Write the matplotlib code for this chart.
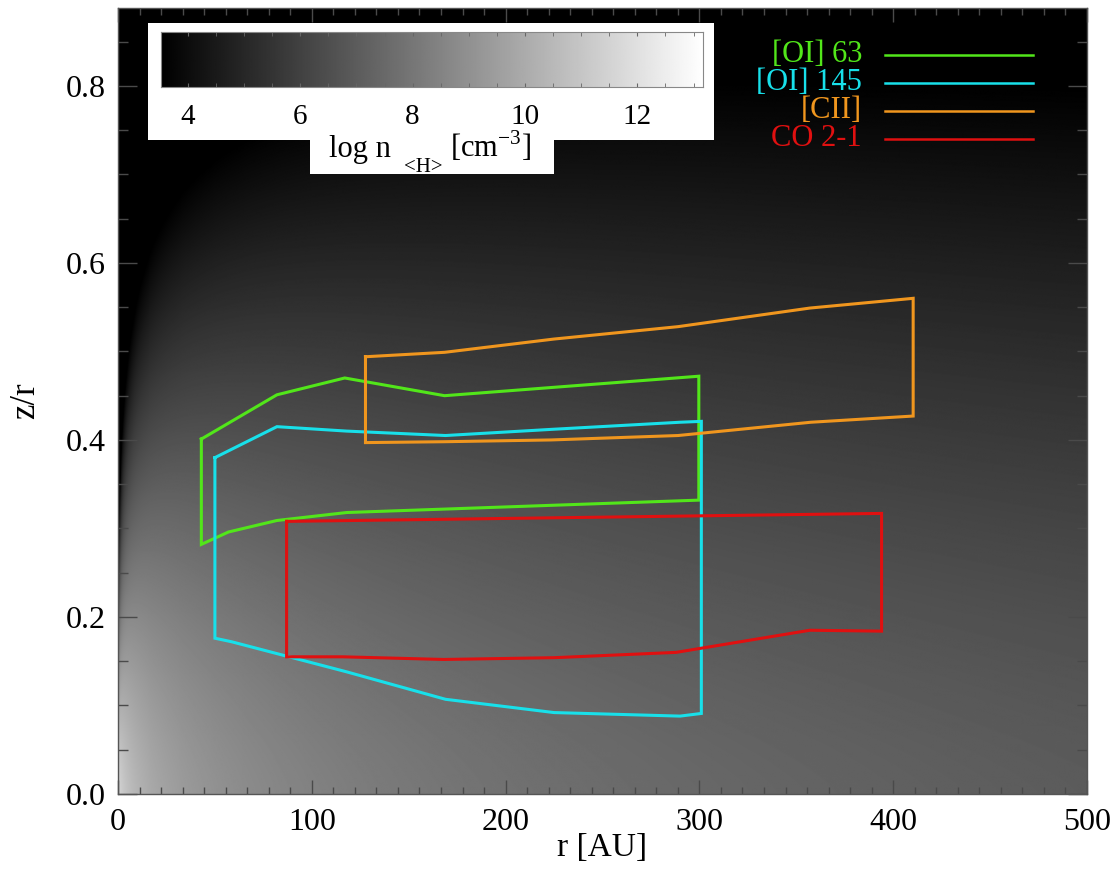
import numpy as np
import matplotlib
matplotlib.use('Agg')
import matplotlib.pyplot as plt
from matplotlib.lines import Line2D
from matplotlib.patches import Polygon
from matplotlib.ticker import MultipleLocator, AutoMinorLocator

plt.rcParams['font.family'] = ['Liberation Serif', 'DejaVu Serif']
plt.rcParams['mathtext.fontset'] = 'custom'
plt.rcParams['mathtext.rm'] = 'Liberation Serif'

# emitting regions (r in AU, z/r)
oi63_r = [43, 82, 117, 168.5, 299.7, 299.7, 118, 82, 57, 43]
oi63_z = [0.401, 0.451, 0.470, 0.450, 0.472, 0.332, 0.318, 0.309, 0.296, 0.282]

oi145_r = [50, 82, 118, 169, 224, 290, 301, 301, 290, 225, 169, 118, 58.6, 50]
oi145_z = [0.380, 0.415, 0.410, 0.405, 0.412, 0.420, 0.421, 0.091, 0.088, 0.092, 0.107, 0.138, 0.172, 0.176]

cii_r = [127.7, 168.5, 225, 289, 357, 410.3, 410.3, 357.5, 289, 223.4, 168.5, 127.7]
cii_z = [0.494, 0.499, 0.514, 0.528, 0.549, 0.560, 0.427, 0.420, 0.405, 0.400, 0.398, 0.397]

co21_r = [87, 394, 394, 357, 288, 225, 168, 116, 87]
co21_z = [0.308, 0.317, 0.184, 0.185, 0.160, 0.154, 0.152, 0.155, 0.155]

regions = [(oi63_r, oi63_z), (oi145_r, oi145_z), (cii_r, cii_z), (co21_r, co21_z)]
line_names = ['[OI] 63', '[OI] 145', '[CII]', 'CO 2-1']
line_colors = ['#52e61a', '#18e0ea', '#f0961e', '#e01010']

xticks = [0, 100, 200, 300, 400, 500]
yticks = [0.0, 0.2, 0.4, 0.6, 0.8]
ytick_labels = ['0.0', '0.2', '0.4', '0.6', '0.8']
cb_ticks = [4, 6, 8, 10, 12]
logn_min, logn_max = 3.52, 13.16
zr_max = 0.888

# disk density model: power law in r, stretched fall-off in z/r that widens outward
rr = np.linspace(0.25, 500, 1000)
zz = np.linspace(0, zr_max, 800)
R, Z = np.meshgrid(rr, zz)
k = 2.5 + 36.6 * (R + 0.3) ** -0.45
logn = 12.65 - 2.1 * np.log10(R + 3) - k * Z ** 1.4

W, H = 1116, 872
fig = plt.figure(figsize=(W / 100, H / 100), dpi=100)
ax = fig.add_axes([118 / W, 1 - 794 / H, 969 / W, 786 / H])

ax.imshow(logn, origin='lower', extent=[0, 500, 0, zr_max], aspect='auto',
          cmap='gray', vmin=logn_min, vmax=logn_max, interpolation='bilinear')

for (r, z), c in zip(regions, line_colors):
    ax.plot(r + [r[0]], z + [z[0]], color=c, lw=2.2, solid_joinstyle='miter')

ax.set_xlim(0, 500)
ax.set_ylim(0, zr_max)
ax.set_xticks(xticks)
ax.set_xticklabels([str(t) for t in xticks])
ax.set_yticks(yticks)
ax.set_yticklabels(ytick_labels)
ax.xaxis.set_minor_locator(AutoMinorLocator(9))
ax.yaxis.set_minor_locator(MultipleLocator(0.05))
ax.tick_params(which='both', direction='in', top=True, right=True,
               color='#4a4a4a', labelsize=23, width=1)
ax.xaxis.set_tick_params(which='major', length=10, pad=10)
ax.xaxis.set_tick_params(which='minor', length=5)
ax.yaxis.set_tick_params(which='major', length=14, pad=9)
ax.yaxis.set_tick_params(which='minor', length=7)
for s in ax.spines.values():
    s.set_color('#555555')
    s.set_linewidth(1.0)

ax.set_xlabel('r [AU]', fontsize=24, labelpad=-3)
ax.set_ylabel('z/r', fontsize=25, labelpad=17)

# white box behind the colour bar
box_px = [(148, 23), (714, 23), (714, 140), (554, 140), (554, 174),
          (309.5, 174), (309.5, 140), (148, 140)]
box = Polygon([(x / W, 1 - y / H) for x, y in box_px], closed=True,
              facecolor='white', edgecolor='none', transform=fig.transFigure, zorder=1)
fig.add_artist(box)

cax = fig.add_axes([161 / W, 1 - 87 / H, 541.5 / W, 55 / H])
cax.set_zorder(3)
grad = np.linspace(logn_min, logn_max, 512)[None, :]
cax.imshow(grad, extent=[logn_min, logn_max, 0, 1], aspect='auto', cmap='gray',
           vmin=logn_min, vmax=logn_max)
cax.set_xlim(logn_min, logn_max)
cax.set_yticks([])
cax.set_xticks(cb_ticks)
cax.set_xticklabels([str(t) for t in cb_ticks])
cax.xaxis.set_minor_locator(MultipleLocator(0.5))
cax.tick_params(axis='x', which='both', direction='in', top=True, length=3,
                color='#666666', labelsize=21, pad=12)
for s in cax.spines.values():
    s.set_color('#888888')
    s.set_linewidth(0.8)

# colour bar title, with the dropped <H> subscript set as its own piece
base_y = 1 - 157 / H
fig.text(329 / W, base_y, 'log n', ha='left', va='baseline', fontsize=22, zorder=4)
fig.text(404 / W, 1 - 167.5 / H, '<H>', ha='left', va='center', fontsize=15, zorder=4)
fig.text(450 / W, base_y, r'[cm$^{\mathregular{-3}}$]', ha='left', va='baseline',
         fontsize=22, zorder=4)

# line key in the upper right
for i, (name, c) in enumerate(zip(line_names, line_colors)):
    y = 1 - (55 + 28 * i) / H
    fig.text(862 / W, y, name, color=c, fontsize=22, ha='right', va='center', zorder=4)
    fig.add_artist(Line2D([885 / W, 1033 / W], [y, y], color=c, lw=1.8,
                          transform=fig.transFigure, zorder=4))

fig.savefig('out.png', dpi=100, facecolor='white')
